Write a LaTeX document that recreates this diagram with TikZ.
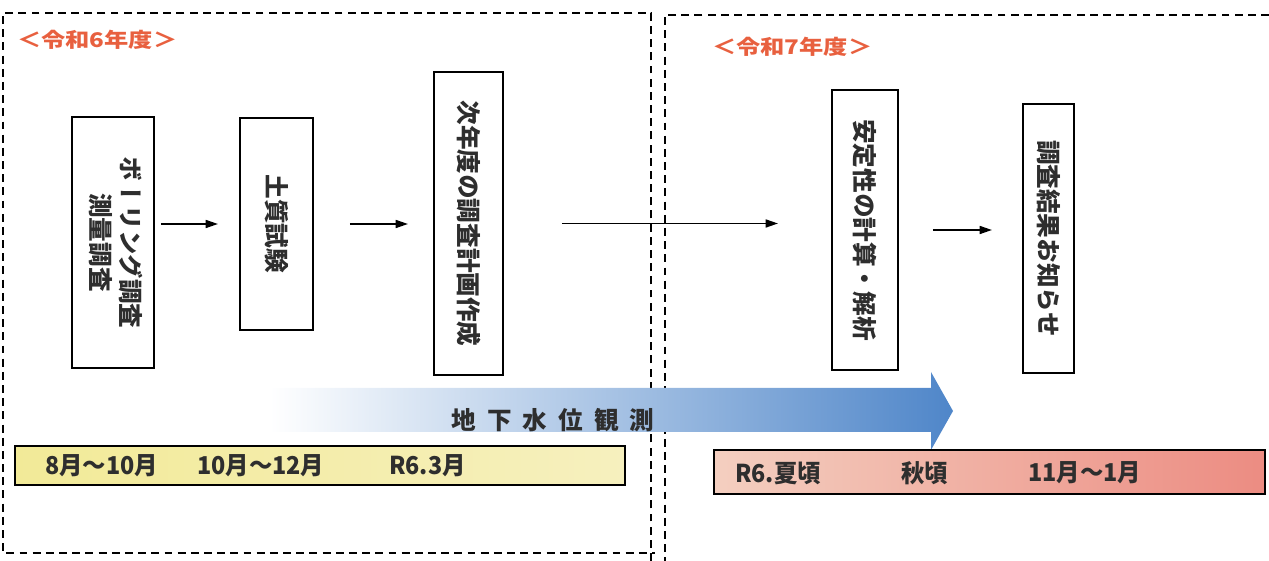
\documentclass[tikz,border=0pt]{standalone}
\usepackage{fontspec}
\usepackage{graphicx}
\usepackage{xcolor}
\usetikzlibrary{arrows.meta}
\setmainfont{Noto Sans CJK JP}
\newfontfamily\tatefont[Vertical=RotatedGlyphs]{Noto Sans CJK JP}
\newfontfamily\midashi[FakeStretch=1.2]{Noto Sans CJK JP}
\newfontfamily\obifont[FakeStretch=0.95]{Noto Sans CJK JP}
\definecolor{nendo}{HTML}{E8603F}
\definecolor{mojigray}{HTML}{2E2E2E}
\definecolor{kiiroL}{HTML}{F2EA98}
\definecolor{kiiroR}{HTML}{F6F0BE}
\definecolor{momoL}{HTML}{F4CFC0}
\definecolor{momoR}{HTML}{EC8C82}
\definecolor{mizuM}{HTML}{A6CBE2}
\definecolor{mizuR}{HTML}{4F86C9}
\newcommand\tate[1]{\rotatebox{-90}{\tatefont\fontsize{14}{16}\selectfont\bfseries\color{mojigray}#1}}

\begin{document}
\begin{tikzpicture}[x=0.02cm,y=0.02cm,
    hako/.style={draw,line width=1.1pt,inner sep=0pt,outer sep=0pt,fill=white},
    waku/.style={line width=1pt,dash pattern=on 4.5pt off 3pt},
    yaji/.style={-{Triangle[length=7pt,width=4.5pt]},line width=1pt},
    obi/.style={draw,line width=1.1pt,inner sep=0pt,anchor=south west},
    obimoji/.style={anchor=west,text=mojigray,font=\obifont\fontsize{14}{16}\selectfont\bfseries},
    nendomoji/.style={anchor=west,text=nendo,font=\midashi\fontsize{11.5}{13}\selectfont\bfseries}]
\useasboundingbox (0,0) rectangle (1269,561);
% frames
\draw[waku] (651,0) -- (651,548) -- (3,548) -- (3,8) -- (655,8);
\draw[waku] (1269,546) -- (665,546) -- (665,0);
\node[nendomoji] (r6) at (11,521) {＜令和6年度＞};
\node[nendomoji] (r7) at (706,514) {＜令和7年度＞};

\node[hako,minimum width=1.64cm,minimum height=5.02cm] (bor) at (113,318.5)
    {\tate{\begin{tabular}{@{}c@{}}ボーリング調査\\測量調査\end{tabular}}};
\node[hako,minimum width=1.46cm,minimum height=4.24cm] (soil) at (276.5,337) {\tate{土質試験}};
\node[hako,minimum width=1.38cm,minimum height=6.06cm] (plan) at (468.5,337.5) {\tate{次年度の調査計画作成}};
\node[hako,minimum width=1.32cm,minimum height=5.6cm] (calc) at (865,331) {\tate{安定性の計算・解析}};
\node[hako,minimum width=1.02cm,minimum height=5.38cm] (notice) at (1048.5,322.5) {\tate{調査結果お知らせ}};

\draw[yaji,shorten <=0.14cm,shorten >=0.44cm] (bor.east |- soil.west) -- (soil.west);
\draw[yaji,shorten <=0.74cm,shorten >=0.52cm] (soil.east) -- (plan.west |- soil.east);
\draw[yaji,shorten <=1.18cm,shorten >=1.08cm] (plan.east) -- (plan.east -| calc.west);
\draw[yaji,shorten <=0.7cm,shorten >=0.62cm] (calc.east) -- (calc.east -| notice.west);

% groundwater arrow
\shade[left color=white,middle color=mizuM,right color=mizuR]
    (270,173) -- (931,173) -- (931,189) -- (953,150) -- (931,111) -- (931,129) -- (270,129) -- cycle;
\node[text=mojigray,font=\fontsize{14}{16}\selectfont\bfseries] (kansoku) at (553,141)
    {\addfontfeature{LetterSpace=45}地下水位観測};

\node[obi,minimum width=12.2cm,minimum height=0.78cm,left color=kiiroL,right color=kiiroR] (kiiro) at (14,75) {};
\node[obi,minimum width=11.02cm,minimum height=0.88cm,left color=momoL,right color=momoR] (momo) at (713,66) {};
\node[obimoji] at (39,95) {8月～10月};
\node[obimoji] at (191,95) {10月～12月};
\node[obimoji] at (383,95) {R6.3月};
\node[obimoji] at (729,88) {R6.夏頃};
\node[obimoji] at (895,88) {秋頃};
\node[obimoji] at (1022,88) {11月～1月};
\end{tikzpicture}
\end{document}
